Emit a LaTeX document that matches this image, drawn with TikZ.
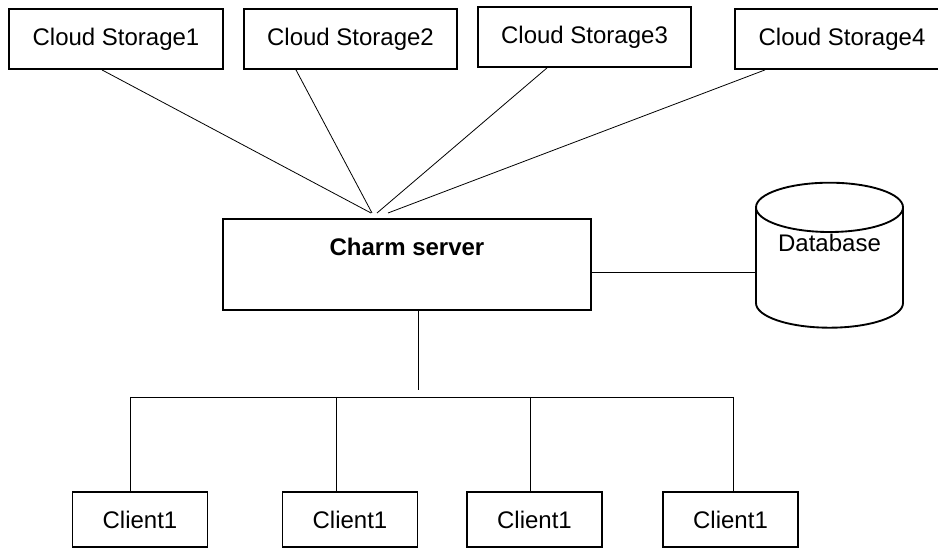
\documentclass[tikz,border=0pt]{standalone}
\usepackage{fontspec}
\setmainfont{Liberation Sans}
\usetikzlibrary{shapes.geometric, calc}

\begin{document}
\begin{tikzpicture}[x=0.75pt, y=-0.75pt,
    box/.style={draw, line width=1.4pt, inner sep=0pt, font=\fontsize{18}{21}\selectfont},
    storebox/.style={box, minimum width=160pt, minimum height=45pt},
    clientbox/.style={box, minimum width=101.25pt, minimum height=41.25pt},
    wire/.style={line width=0.6pt}]
    \useasboundingbox (0,0) rectangle (938,548);

    \node[storebox] (cs1) at (116,39) {Cloud Storage1};
    \node[storebox] (cs2) at (350.5,39) {Cloud Storage2};
    \node[storebox] (cs3) at (584.5,37) {Cloud Storage3};
    \node[storebox] (cs4) at (842,39) {Cloud Storage4};

    \node[box, font=\fontsize{18}{21}\selectfont\bfseries, minimum width=276pt, minimum height=68.25pt,
        text height=13pt, text depth=26.4pt] (server) at (407,264.5) {Charm server};
    \node[box, cylinder, shape border rotate=90, aspect=0.48, minimum width=110.25pt,
        minimum height=108.75pt, text height=13pt, text depth=37.5pt] (db) at (829.5,268) {Database};

    \node[clientbox] (c1) at (140,519.5) {Client1};
    \node[clientbox] (c2) at (350,519.5) {Client1};
    \node[clientbox] (c3) at (534.5,519.5) {Client1};
    \node[clientbox] (c4) at (730.5,519.5) {Client1};

    % storage links
    \coordinate (h1) at (371,213);
    \coordinate (h2) at (372,213);
    \coordinate (h3) at (377,213);
    \coordinate (h4) at (388,213);
    \draw[wire] ($(cs1.south)+(-14,0)$) -- (h1);
    \draw[wire] ($(cs2.south)+(-54.5,0)$) -- (h2);
    \draw[wire] ($(cs3.south)+(-37.5,0)$) -- (h3);
    \draw[wire] ($(cs4.south)+(-77,0)$) -- (h4);

    \draw[wire] ([yshift=-5.6pt]server.east) -- ([yshift=-5.6pt]server.east -| db.west);

    % client bus
    \coordinate (stem) at (418,390);
    \coordinate (t1) at (130,397);
    \coordinate (t2) at (336,397);
    \coordinate (t3) at (530,397);
    \coordinate (t4) at (733,397);
    \draw[wire] (stem |- server.south) -- (stem);
    \draw[wire] (t1) -- (t4);
    \foreach \t/\c in {t1/c1, t2/c2, t3/c3, t4/c4}
        \draw[wire] (\t) -- (\t |- \c.north);
\end{tikzpicture}
\end{document}
